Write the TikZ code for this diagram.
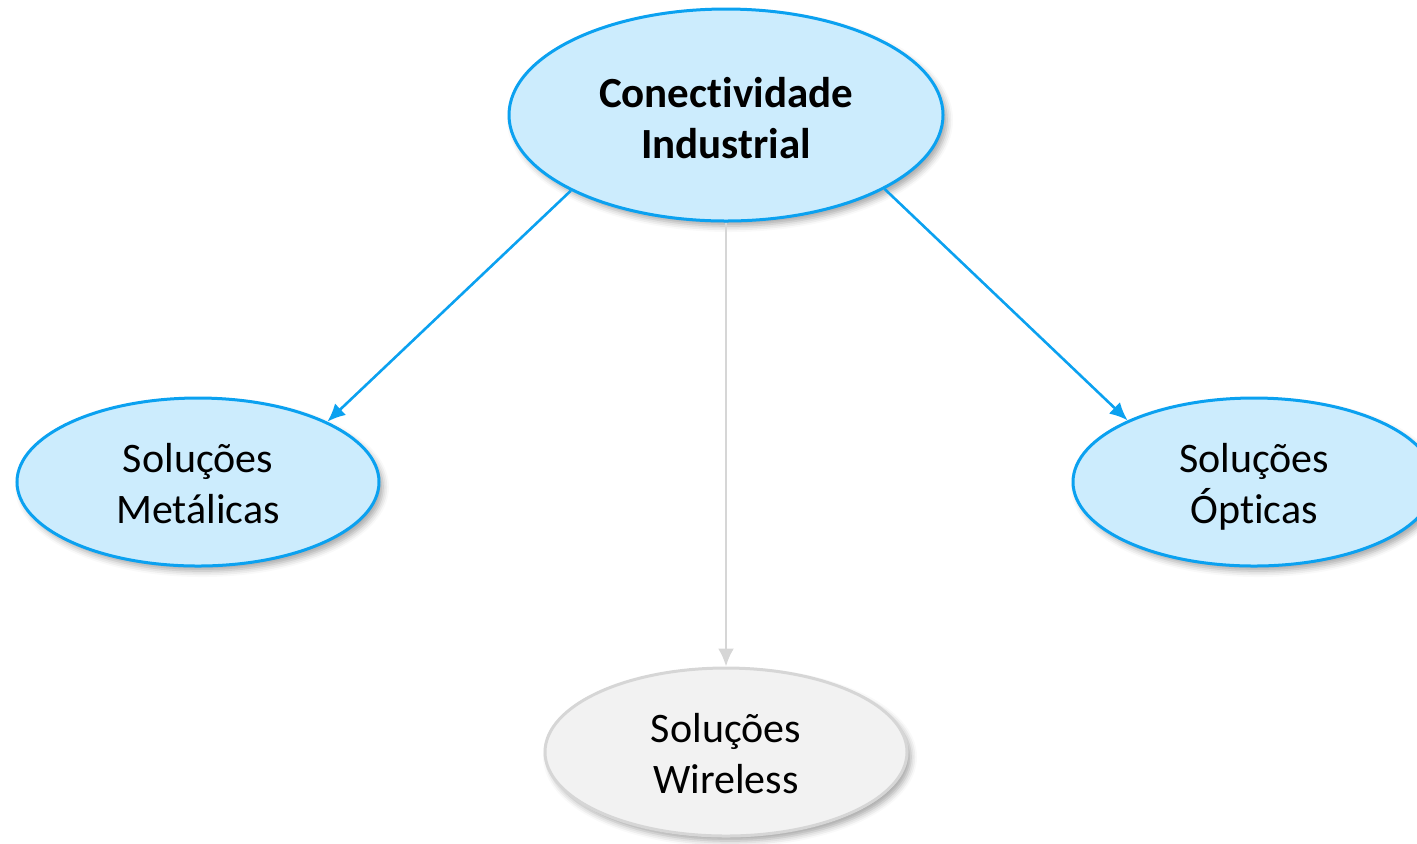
\documentclass[tikz,border=0pt]{standalone}
\usepackage{fontspec}
\setmainfont{Carlito}[Ligatures=NoCommon]
\usetikzlibrary{shapes.geometric,arrows.meta,shadows.blur}
\definecolor{nodefill}{HTML}{CCECFD}
\definecolor{nodeline}{HTML}{0BA1F0}
\definecolor{greyfill}{HTML}{F2F2F2}
\definecolor{greyline}{HTML}{D6D6D6}
% invisible rules that fix the height of the first line and the depth of the last
\newcommand\firstline[1][21pt]{\rule{0pt}{#1}}
\newcommand\lastline{\rule[-5.5pt]{0pt}{5.5pt}}
\tikzset{
  topic/.style={ellipse, draw=nodeline, fill=nodefill, line width=1.5pt,
    align=center, inner sep=0pt,
    blur shadow={shadow xshift=2pt, shadow yshift=-2.5pt, shadow blur radius=3pt, shadow opacity=35},
    font=\fontsize{21}{25.5}\selectfont},
  mainnode/.style={topic, minimum width=217pt, minimum height=106pt,
    font=\fontsize{21.5}{25.5}\selectfont\bfseries},
  subnode/.style={topic, minimum width=181pt, minimum height=84pt},
  greynode/.style={subnode, draw=greyline, fill=greyfill},
  link/.style={draw=nodeline, line width=1.3pt, -{Latex[length=9pt,width=8pt]}},
  greylink/.style={link, draw=greyline}
}
\begin{document}
\begin{tikzpicture}[x=0.5pt,y=-0.5pt]
  \useasboundingbox (0,0) rectangle (1417,843);
  \clip (0,0) rectangle (1417,843);

  \node[mainnode] (ci) at (726,115) {\firstline[23pt]Conectividade\\Industrial\lastline};
  \node[subnode]  (met) at (198,482) {\firstline Soluções\\Metálicas\lastline};
  \node[subnode]  (opt) at (1254,482) {\firstline Soluções\\Ópticas\lastline};
  \node[greynode] (wir) at (726,752) {\firstline Soluções\\Wireless\lastline};

  \draw[link] (ci.206.6) -- (met.25.2);
  \draw[link] (ci.-25.4) -- (opt.154.8);
  \draw[greylink] (ci.south) -- (wir.north);
\end{tikzpicture}
\end{document}
